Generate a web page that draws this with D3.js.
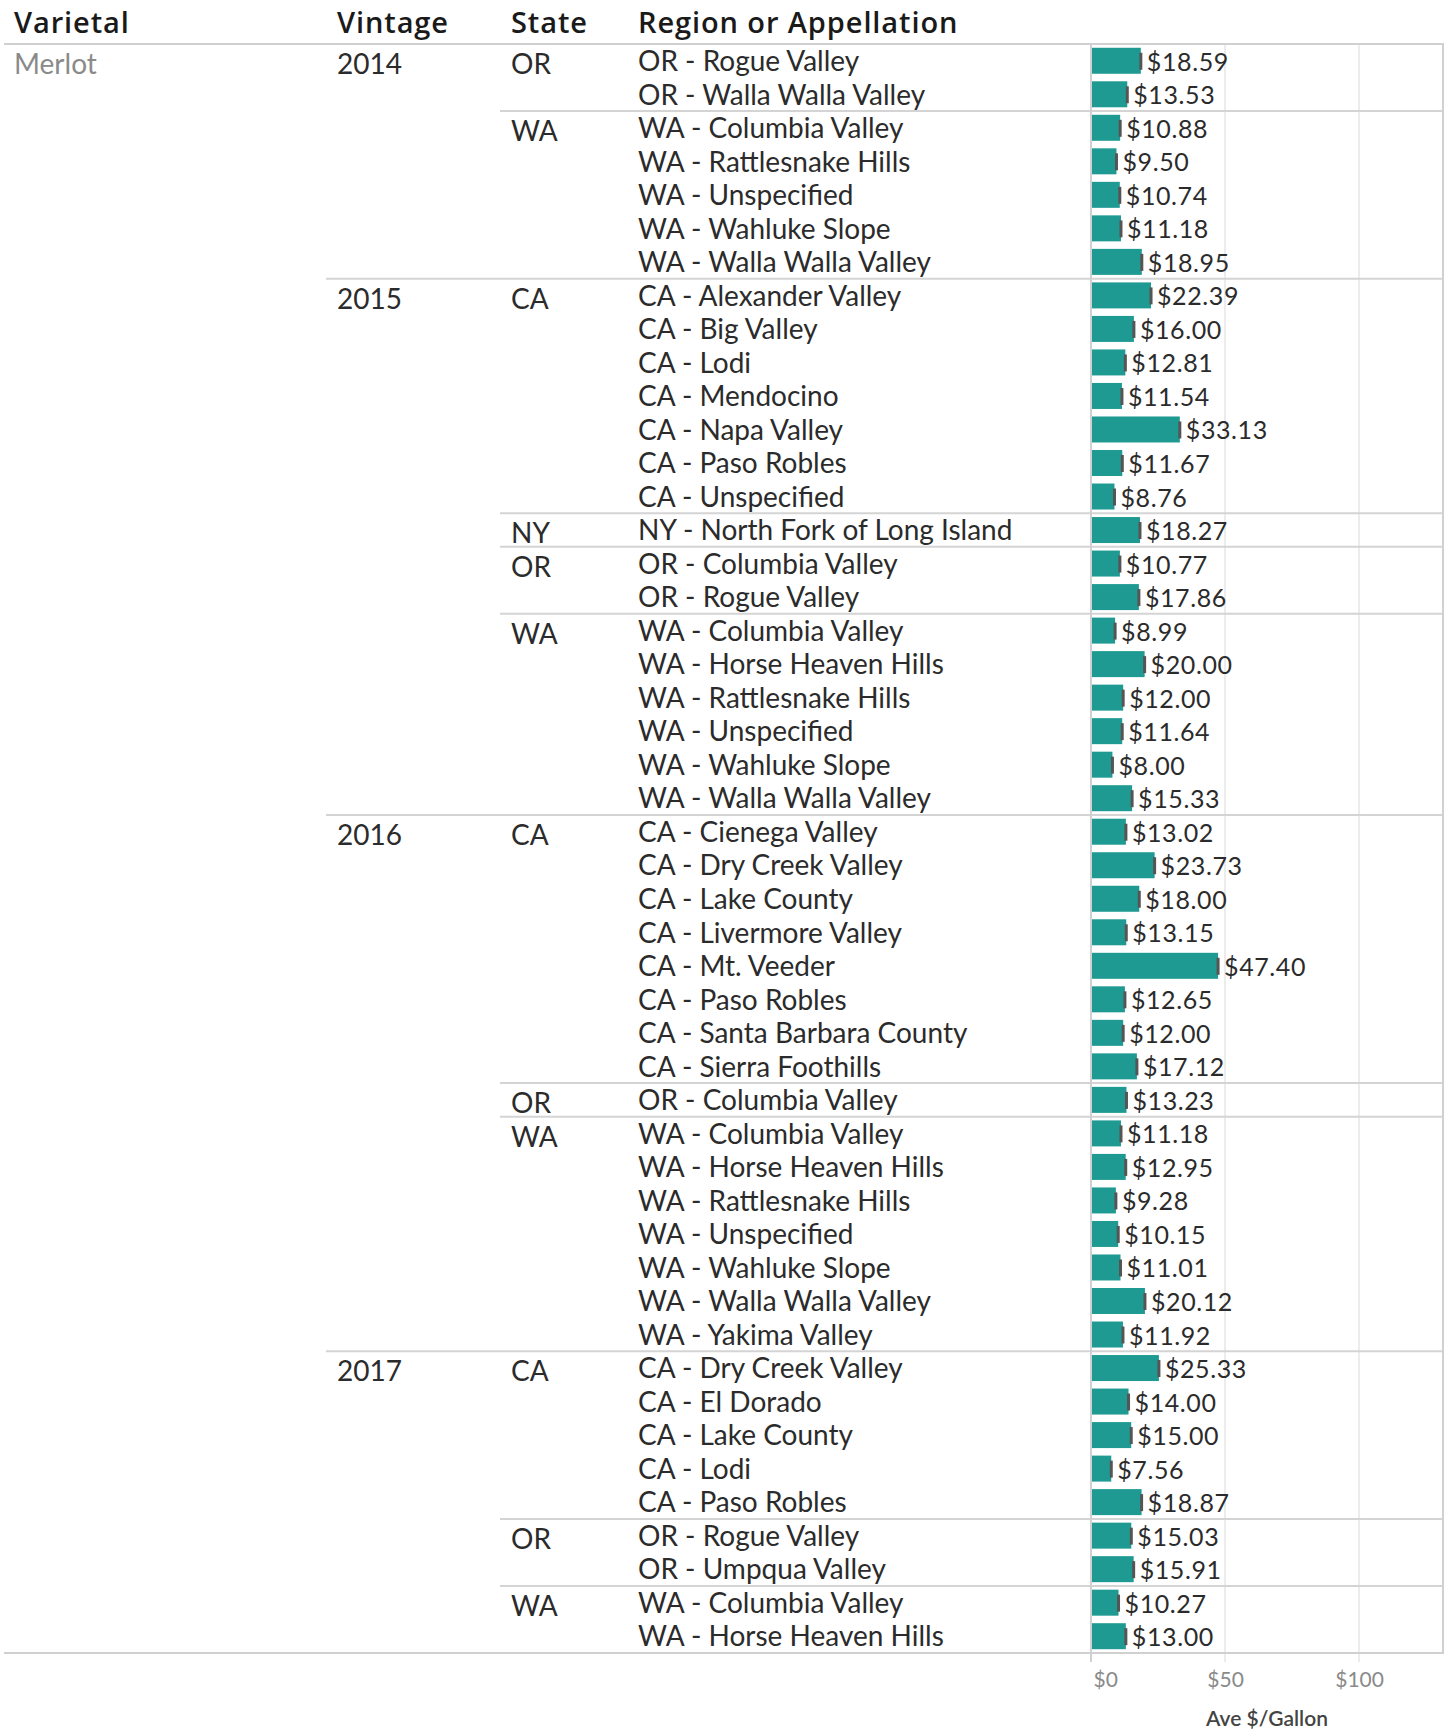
<!DOCTYPE html>
<html>
<head>
<meta charset="utf-8">
<script src="https://cdn.jsdelivr.net/npm/d3@7"></script>
<style>
  body { margin: 0; background: #fff; }
  text { font-family: Lato, "Noto Sans", sans-serif; }
</style>
</head>
<body>
<div id="chart"></div>
<script>
const varietal = "Merlot";
const headers = ["Varietal", "Vintage", "State", "Region or Appellation"];

const regions = [
  "OR - Rogue Valley", "OR - Walla Walla Valley",
  "WA - Columbia Valley", "WA - Rattlesnake Hills", "WA - Unspecified", "WA - Wahluke Slope", "WA - Walla Walla Valley",
  "CA - Alexander Valley", "CA - Big Valley", "CA - Lodi", "CA - Mendocino", "CA - Napa Valley", "CA - Paso Robles", "CA - Unspecified",
  "NY - North Fork of Long Island",
  "OR - Columbia Valley", "OR - Rogue Valley",
  "WA - Columbia Valley", "WA - Horse Heaven Hills", "WA - Rattlesnake Hills", "WA - Unspecified", "WA - Wahluke Slope", "WA - Walla Walla Valley",
  "CA - Cienega Valley", "CA - Dry Creek Valley", "CA - Lake County", "CA - Livermore Valley", "CA - Mt. Veeder", "CA - Paso Robles", "CA - Santa Barbara County", "CA - Sierra Foothills",
  "OR - Columbia Valley",
  "WA - Columbia Valley", "WA - Horse Heaven Hills", "WA - Rattlesnake Hills", "WA - Unspecified", "WA - Wahluke Slope", "WA - Walla Walla Valley", "WA - Yakima Valley",
  "CA - Dry Creek Valley", "CA - El Dorado", "CA - Lake County", "CA - Lodi", "CA - Paso Robles",
  "OR - Rogue Valley", "OR - Umpqua Valley",
  "WA - Columbia Valley", "WA - Horse Heaven Hills"
];

const vintages = [
  2014, 2014, 2014, 2014, 2014, 2014, 2014,
  2015, 2015, 2015, 2015, 2015, 2015, 2015, 2015, 2015, 2015, 2015, 2015, 2015, 2015, 2015, 2015,
  2016, 2016, 2016, 2016, 2016, 2016, 2016, 2016, 2016, 2016, 2016, 2016, 2016, 2016, 2016, 2016,
  2017, 2017, 2017, 2017, 2017, 2017, 2017, 2017, 2017
];

const prices = [
  18.59, 13.53,
  10.88, 9.50, 10.74, 11.18, 18.95,
  22.39, 16.00, 12.81, 11.54, 33.13, 11.67, 8.76,
  18.27,
  10.77, 17.86,
  8.99, 20.00, 12.00, 11.64, 8.00, 15.33,
  13.02, 23.73, 18.00, 13.15, 47.40, 12.65, 12.00, 17.12,
  13.23,
  11.18, 12.95, 9.28, 10.15, 11.01, 20.12, 11.92,
  25.33, 14.00, 15.00, 7.56, 18.87,
  15.03, 15.91,
  10.27, 13.00
];

const axisTicks = [0, 50, 100];
const axisTitle = "Ave $/Gallon";

const rows = regions.map((r, i) => ({
  region: r,
  state: r.split(" - ")[0],
  vintage: vintages[i],
  price: prices[i],
  i: i
}));

const width = 1445, height = 1731;
const topY = 44, rowH = 33.52;
const colX = { varietal: 14, vintage: 337, state: 511, region: 638 };
const paneLeft = 1091, paneRight = 1443;
const bottomY = topY + rows.length * rowH;

const svg = d3.select("#chart").append("svg")
  .attr("width", width)
  .attr("height", height);

const y = d3.scaleBand()
  .domain(rows.map(d => d.i))
  .range([topY, bottomY]);

const x = d3.scaleLinear()
  .domain([0, 131.3])
  .range([paneLeft, paneRight]);

// gridlines
svg.append("g").selectAll("line")
  .data(axisTicks.slice(1))
  .join("line")
  .attr("x1", d => x(d)).attr("x2", d => x(d))
  .attr("y1", topY).attr("y2", bottomY + 9)
  .attr("stroke", "#ececec").attr("stroke-width", 2);

// headers
svg.append("g").selectAll("text")
  .data(headers)
  .join("text")
  .attr("x", (d, i) => [colX.varietal, colX.vintage, colX.state, colX.region][i])
  .attr("y", 33)
  .attr("font-size", 29)
  .attr("font-weight", 600)
  .attr("fill", "#1a1a1a")
  .style("font-family", "'Open Sans', sans-serif")
  .style("letter-spacing", "0.9px")
  .text(d => d);

// group separators
const vintageStarts = rows.filter((d, i) => i === 0 || d.vintage !== rows[i - 1].vintage);
const stateStarts = rows.filter((d, i) => i === 0 || d.vintage !== rows[i - 1].vintage || d.state !== rows[i - 1].state);

svg.append("g").selectAll("line")
  .data(stateStarts.filter(d => d.i > 0 && d.vintage === rows[d.i - 1].vintage))
  .join("line")
  .attr("x1", 500).attr("x2", paneRight)
  .attr("y1", d => y(d.i)).attr("y2", d => y(d.i))
  .attr("stroke", "#d4d4d4").attr("stroke-width", 2);

svg.append("g").selectAll("line")
  .data(vintageStarts.filter(d => d.i > 0))
  .join("line")
  .attr("x1", 326).attr("x2", paneRight)
  .attr("y1", d => y(d.i)).attr("y2", d => y(d.i))
  .attr("stroke", "#d4d4d4").attr("stroke-width", 2);

svg.append("g").selectAll("line")
  .data([topY, bottomY])
  .join("line")
  .attr("x1", 4).attr("x2", paneRight + 1)
  .attr("y1", d => d).attr("y2", d => d)
  .attr("stroke", "#d0d0d0").attr("stroke-width", 2);

// zero line & right border
svg.append("line")
  .attr("x1", x(0)).attr("x2", x(0))
  .attr("y1", topY).attr("y2", bottomY + 9)
  .attr("stroke", "#d0d0d0").attr("stroke-width", 2);
svg.append("line")
  .attr("x1", paneRight).attr("x2", paneRight)
  .attr("y1", topY).attr("y2", bottomY)
  .attr("stroke", "#d0d0d0").attr("stroke-width", 2);

// row header text
svg.append("text")
  .attr("x", colX.varietal).attr("y", y(0) + 30)
  .attr("font-size", 28).attr("fill", "#8a8a8a")
  .text(varietal);

svg.append("g").selectAll("text")
  .data(vintageStarts)
  .join("text")
  .attr("x", colX.vintage).attr("y", d => y(d.i) + 30)
  .attr("font-size", 28).attr("fill", "#2b2b2b")
  .text(d => d.vintage);

svg.append("g").selectAll("text")
  .data(stateStarts)
  .join("text")
  .attr("x", colX.state).attr("y", d => y(d.i) + 30)
  .attr("font-size", 28).attr("fill", "#2b2b2b")
  .text(d => d.state);

svg.append("g").selectAll("text")
  .data(rows)
  .join("text")
  .attr("x", colX.region).attr("y", d => y(d.i) + 27)
  .attr("font-size", 28).attr("fill", "#2b2b2b")
  .text(d => d.region);

// bars
const barH = 26;
svg.append("g").selectAll("rect")
  .data(rows)
  .join("rect")
  .attr("x", x(0) + 1)
  .attr("y", d => y(d.i) + (y.bandwidth() - barH) / 2)
  .attr("width", d => x(d.price) - x(0) - 1)
  .attr("height", barH)
  .attr("fill", "#1f9a93");

// value markers
svg.append("g").selectAll("rect")
  .data(rows)
  .join("rect")
  .attr("x", d => x(d.price) - 1.5)
  .attr("y", d => y(d.i) + y.bandwidth() / 2 - 8)
  .attr("width", 3)
  .attr("height", 17)
  .attr("fill", "#555");

// value labels
svg.append("g").selectAll("text")
  .data(rows)
  .join("text")
  .attr("x", d => x(d.price) + 6)
  .attr("y", d => y(d.i) + y.bandwidth() / 2 + 10)
  .attr("font-size", 25).attr("fill", "#2b2b2b")
  .style("letter-spacing", "0.6px")
  .text(d => d3.format("$.2f")(d.price));

// axis
const axis = svg.append("g")
  .attr("transform", `translate(0,${bottomY})`)
  .call(d3.axisBottom(x).tickValues(axisTicks).tickFormat(d => "$" + d).tickSize(0).tickPadding(19));
axis.select(".domain").remove();
axis.selectAll("text")
  .attr("font-size", 21)
  .attr("fill", "#8a8a8a")
  .attr("text-anchor", d => d === 0 ? "start" : "middle")
  .attr("dx", d => d === 0 ? 2 : 0)
  .style("font-family", "Lato, sans-serif");

svg.append("text")
  .attr("x", (paneLeft + paneRight) / 2)
  .attr("y", 1726)
  .attr("text-anchor", "middle")
  .attr("font-size", 21)
  .attr("font-weight", 600)
  .attr("fill", "#444")
  .text(axisTitle);
</script>
</body>
</html>
